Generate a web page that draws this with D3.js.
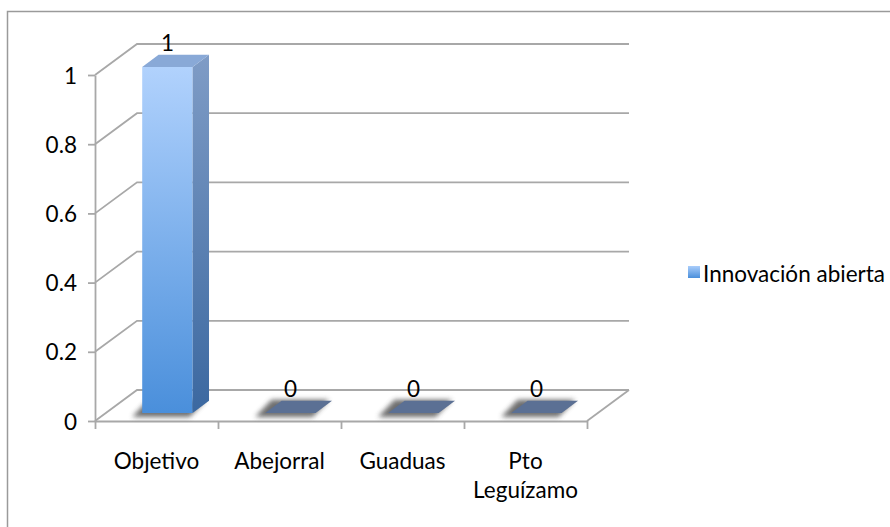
<!DOCTYPE html>
<html>
<head>
<meta charset="utf-8">
<script src="https://cdn.jsdelivr.net/npm/d3@7"></script>
<style>
  body { margin: 0; background: #fff; }
  text { font-family: Lato, "Open Sans", sans-serif; fill: #000; }
</style>
</head>
<body>
<svg id="chart" width="890" height="527"></svg>
<script>
// Data
const categories = ["Objetivo", "Abejorral", "Guaduas", "Pto Leguízamo"];
const values = [1, 0, 0, 0];
const yTicks = [0, 0.2, 0.4, 0.6, 0.8, 1];
const seriesName = "Innovación abierta";

const svg = d3.select("#chart");
const fontSize = 22.5;

// Front plane of the 3D plot area and the depth offset of the back wall
const frontX = [95, 587];
const frontY = [421, 75];
const depthDX = 42, depthDY = -31;
const proj = (px, py, d) => [px + depthDX * d, py + depthDY * d];

const x = d3.scaleBand().domain(categories).range(frontX);
const xEdges = d3.scaleLinear().domain([0, categories.length]).range(frontX);
const y = d3.scaleLinear().domain([0, 1]).range(frontY);

// Gradients and filters
const defs = svg.append("defs");
const gFront = defs.append("linearGradient").attr("id", "gFront")
  .attr("x1", 0).attr("y1", 0).attr("x2", 0).attr("y2", 1);
gFront.append("stop").attr("offset", 0).attr("stop-color", "#b1d2fd");
gFront.append("stop").attr("offset", 1).attr("stop-color", "#4a8fdb");
const gSide = defs.append("linearGradient").attr("id", "gSide")
  .attr("x1", 0).attr("y1", 0).attr("x2", 0).attr("y2", 1);
gSide.append("stop").attr("offset", 0).attr("stop-color", "#7f9cc6");
gSide.append("stop").attr("offset", 1).attr("stop-color", "#3b68a0");
const gLegend = defs.append("linearGradient").attr("id", "gLegend")
  .attr("x1", 0).attr("y1", 0).attr("x2", 0).attr("y2", 1);
gLegend.append("stop").attr("offset", 0).attr("stop-color", "#a9cdfb");
gLegend.append("stop").attr("offset", 1).attr("stop-color", "#4a8fdb");
defs.append("filter").attr("id", "soft")
  .attr("x", "-50%").attr("y", "-100%").attr("width", "200%").attr("height", "300%")
  .append("feGaussianBlur").attr("stdDeviation", 2.5);

// Outer chart border
svg.append("rect")
  .attr("x", 7.5).attr("y", 11.5).attr("width", 900).attr("height", 600)
  .attr("fill", "none").attr("stroke", "#9a9a9a").attr("stroke-width", 1.5);

const gridColor = "#a8a8a8";
const grid = svg.append("g").attr("fill", "none").attr("stroke", gridColor).attr("stroke-width", 1.8);

// Side-wall diagonals and back-wall gridlines
yTicks.forEach(t => {
  const p0 = [frontX[0], y(t)];
  const p1 = proj(frontX[0], y(t), 1);
  const p2 = proj(frontX[1], y(t), 1);
  grid.append("path").attr("d", d3.line()([p0, p1, p2]));
});
// Right floor edge
grid.append("path").attr("d", d3.line()([[frontX[1], y(0)], proj(frontX[1], y(0), 1)]));

// Y axis on the front plane
const yAxis = svg.append("g")
  .attr("transform", `translate(${frontX[0]},0)`)
  .call(d3.axisLeft(y).tickValues(yTicks).tickFormat(d3.format("~g")).tickSize(7).tickPadding(11).tickSizeOuter(0));
yAxis.select(".domain").attr("stroke", gridColor).attr("stroke-width", 1.8);
yAxis.selectAll(".tick line").attr("stroke", gridColor).attr("stroke-width", 1.8);
yAxis.selectAll(".tick text").style("font-size", fontSize + "px").attr("dy", "0.36em");

// X axis: floor front edge with ticks at category boundaries
const xAxis = svg.append("g")
  .attr("transform", `translate(0,${y(0)})`)
  .call(d3.axisBottom(xEdges).tickValues(d3.range(categories.length + 1)).tickFormat("").tickSize(8).tickSizeOuter(0));
xAxis.select(".domain").attr("stroke", gridColor).attr("stroke-width", 1.8);
xAxis.selectAll(".tick line").attr("stroke", gridColor).attr("stroke-width", 1.8);

// Category labels, wrapped to the band width
const labelG = svg.append("g").style("font-size", fontSize + "px").attr("text-anchor", "middle");
categories.forEach(c => {
  const cx = x(c) + x.bandwidth() / 2;
  const t = labelG.append("text").attr("x", cx).attr("y", 469).text(c);
  const words = c.split(" ");
  if (t.node().getComputedTextLength() > x.bandwidth() && words.length > 1) {
    t.text(null);
    words.forEach((w, i) => t.append("tspan").attr("x", cx).attr("y", 469 + i * 29).text(w));
  }
});

// Bars
const d0 = 0.26, d1 = 0.65, barFrac = 0.41;
const bars = svg.append("g");
categories.forEach((c, i) => {
  const v = values[i];
  const bw = x.bandwidth() * barFrac;
  const cx = x(c) + x.bandwidth() / 2;
  const L = cx - bw / 2, R = cx + bw / 2;
  const yb = y(0), yt = y(v);
  const g = bars.append("g");

  // soft floor shadow
  const foot = [proj(L - 4, yb + 3, d0), proj(R + 3, yb + 3, d0), proj(R + 3, yb - 2, d1), proj(L - 4, yb - 2, d1)]
    .map(p => [p[0] - 6, p[1] + 1]);
  g.append("path").attr("d", d3.line()(foot) + "Z")
    .attr("fill", "#5e5e5e").attr("opacity", 0.9).attr("filter", "url(#soft)");

  if (v > 0) {
    // front face
    g.append("path").attr("d", d3.line()([proj(L, yt, d0), proj(R, yt, d0), proj(R, yb, d0), proj(L, yb, d0)]) + "Z")
      .attr("fill", "url(#gFront)");
    // side face
    g.append("path").attr("d", d3.line()([proj(R, yt, d0), proj(R, yt, d1), proj(R, yb, d1), proj(R, yb, d0)]) + "Z")
      .attr("fill", "url(#gSide)");
    // top face
    g.append("path").attr("d", d3.line()([proj(L, yt, d0), proj(R, yt, d0), proj(R, yt, d1), proj(L, yt, d1)]) + "Z")
      .attr("fill", "#89a9d7");
  } else {
    g.append("path").attr("d", d3.line()([proj(L, yt, d0), proj(R, yt, d0), proj(R, yt, d1), proj(L, yt, d1)]) + "Z")
      .attr("fill", "#5b7094");
  }

  // value label
  const lp = proj(cx, yt, d0);
  g.append("text").attr("x", lp[0]).attr("y", lp[1] - 16)
    .attr("text-anchor", "middle").style("font-size", fontSize + "px")
    .text(d3.format("~g")(v));
});

// Legend
const legend = svg.append("g").attr("transform", "translate(688,266)");
legend.append("rect").attr("width", 12).attr("height", 12).attr("fill", "url(#gLegend)");
legend.append("text").attr("x", 15).attr("y", 15.5).style("font-size", fontSize + "px").text(seriesName);
</script>
</body>
</html>
